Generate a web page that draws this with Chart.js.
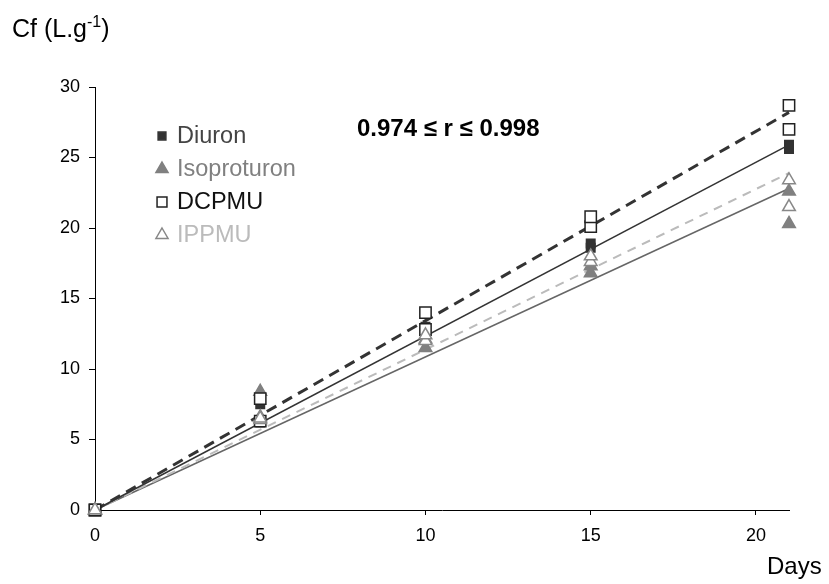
<!DOCTYPE html>
<html lang="en">

<head>
    <meta charset="UTF-8">
    <style>
        body { margin: 0; background: #fff; }
        .chart-container { position: relative; width: 829px; height: 584px; }
    </style>
</head>

<body>
    <div class="chart-container">
        <canvas id="myChart" width="829" height="584"></canvas>
    </div>

    <script src="https://cdn.jsdelivr.net/npm/chart.js"></script>

    <script>
        // sampling days and two replicates per compound
        const days = [0, 5, 10, 15, 21];
        const diuronA = [0, 7.5, 13.0, 18.9, 25.9];
        const diuronB = [0, 6.2, 12.8, 18.6, 25.6];
        const isoA = [0, 8.4, 12.1, 17.3, 22.6];
        const isoB = [0, 6.6, 11.5, 16.8, 20.3];
        const dcpmuA = [0, 7.9, 14.0, 20.8, 28.7];
        const dcpmuB = [0, 6.3, 12.8, 20.1, 27.0];
        const ippmuA = [0, 6.5, 12.4, 18.0, 23.4];
        const ippmuB = [0, 6.4, 12.0, 17.6, 21.5];

        // fitted lines (start and end values)
        const fitDays = [0, 21];
        const diuronFit = [0, 25.9];
        const isoFit = [0, 22.8];
        const dcpmuFit = [0, 28.2];
        const ippmuFit = [0, 23.9];

        const xTicks = [0, 5, 10, 15, 20];
        const yTicks = [0, 5, 10, 15, 20, 25, 30];

        const legendItems = [
            { label: 'Diuron', color: '#444', style: 'rect', fill: '#333', stroke: '#333', r: 5.5 },
            { label: 'Isoproturon', color: '#808080', style: 'triangle', fill: '#808080', stroke: '#808080', r: 7 },
            { label: 'DCPMU', color: '#111', style: 'rect', fill: '#fff', stroke: '#222', r: 7 },
            { label: 'IPPMU', color: '#bbb', style: 'triangle', fill: '#fff', stroke: '#888', r: 7 }
        ];

        const FONT = '"Liberation Sans", Arial, sans-serif';

        const pts = (xs, ys) => xs.map((x, i) => ({ x: x, y: ys[i] }));

        const marks = (ys, style, fill, stroke, r) => ({
            data: pts(days, ys),
            showLine: false,
            pointStyle: style,
            pointRadius: r,
            pointHoverRadius: r,
            pointBackgroundColor: fill,
            pointBorderColor: stroke,
            pointBorderWidth: 1.5,
            clip: false,
            order: 1
        });

        const fitLine = (ys, color, width, dash) => ({
            data: pts(fitDays, ys),
            showLine: true,
            pointRadius: 0,
            borderColor: color,
            borderWidth: width,
            borderDash: dash,
            clip: false,
            order: 2
        });

        const overlay = {
            id: 'overlay',
            afterDraw(chart) {
                const c = chart.ctx;
                c.save();
                c.textBaseline = 'middle';
                c.textAlign = 'left';

                // legend inside plot
                legendItems.forEach((it, i) => {
                    const y = 136 + i * 33;
                    c.fillStyle = it.fill;
                    c.strokeStyle = it.stroke;
                    c.lineWidth = 1.5;
                    c.beginPath();
                    if (it.style === 'rect') {
                        const h = it.r * Math.SQRT1_2;
                        c.rect(162 - h, y - h, 2 * h, 2 * h);
                    } else {
                        const r = it.r;
                        c.moveTo(162, y - r);
                        c.lineTo(162 + r * 0.866, y + r * 0.5);
                        c.lineTo(162 - r * 0.866, y + r * 0.5);
                        c.closePath();
                    }
                    c.fill();
                    c.stroke();
                    c.fillStyle = it.color;
                    c.font = '23.5px ' + FONT;
                    c.fillText(it.label, 177, y + 1);
                });

                // correlation note
                c.fillStyle = '#000';
                c.font = 'bold 24px ' + FONT;
                c.fillText('0.974 \u2264 r \u2264 0.998', 357, 129);

                // axis titles
                c.font = '25px ' + FONT;
                c.textBaseline = 'alphabetic';
                let x = 12;
                c.fillText('Cf (L.g', x, 37);
                x += c.measureText('Cf (L.g').width;
                c.font = '16px ' + FONT;
                c.fillText('-1', x, 27);
                x += c.measureText('-1').width;
                c.font = '25px ' + FONT;
                c.fillText(')', x, 37);

                c.font = '24px ' + FONT;
                c.fillText('Days', 767, 574);
                c.restore();
            }
        };

        const ctx = document.getElementById('myChart');

        new Chart(ctx, {
            type: 'scatter',
            data: {
                datasets: [
                    marks(ippmuA, 'triangle', '#fff', '#888', 7.3),
                    marks(ippmuB, 'triangle', '#fff', '#888', 7.3),
                    marks(dcpmuA, 'rect', '#fff', '#222', 8),
                    marks(dcpmuB, 'rect', '#fff', '#222', 8),
                    marks(isoA, 'triangle', '#808080', '#808080', 7.3),
                    marks(isoB, 'triangle', '#808080', '#808080', 7.3),
                    marks(diuronA, 'rect', '#333', '#333', 6),
                    marks(diuronB, 'rect', '#333', '#333', 6),
                    fitLine(dcpmuFit, '#333', 3, [11, 7]),
                    fitLine(diuronFit, '#333', 1.5, []),
                    fitLine(ippmuFit, '#bbb', 2, [9, 7]),
                    fitLine(isoFit, '#666', 1.5, [])
                ]
            },
            options: {
                responsive: false,
                animation: false,
                events: [],
                layout: { padding: { top: 87, right: 40, bottom: 0, left: 0 } },
                plugins: { legend: { display: false }, tooltip: { enabled: false } },
                scales: {
                    x: {
                        type: 'linear',
                        min: 0,
                        max: 21,
                        afterFit: (s) => { s.height = 74; },
                        afterBuildTicks: (s) => { s.ticks = xTicks.map(v => ({ value: v })); },
                        ticks: {
                            color: '#000',
                            padding: 10,
                            font: { family: FONT, size: 18 },
                            maxRotation: 0
                        },
                        grid: { drawOnChartArea: false, tickLength: 5, color: '#000', tickColor: '#000' },
                        border: { color: '#000', width: 1 }
                    },
                    y: {
                        min: 0,
                        max: 30,
                        afterFit: (s) => { s.width = 95; },
                        afterBuildTicks: (s) => { s.ticks = yTicks.map(v => ({ value: v })); },
                        ticks: {
                            color: '#000',
                            padding: 9,
                            font: { family: FONT, size: 18 }
                        },
                        grid: { drawOnChartArea: false, tickLength: 6, color: '#000', tickColor: '#000' },
                        border: { color: '#000', width: 1 }
                    }
                }
            },
            plugins: [overlay]
        });
    </script>
</body>

</html>
